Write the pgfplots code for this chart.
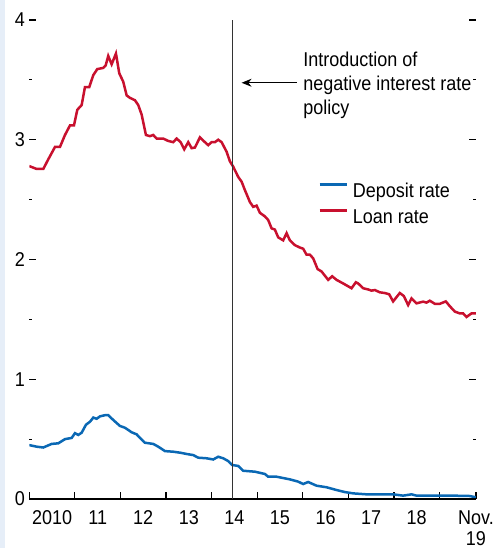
\documentclass[border=0pt]{standalone}
\usepackage{fontspec}
\setmainfont{Liberation Sans}[FakeStretch=0.9]
\usepackage{pgfplots}
\pgfplotsset{compat=1.18}
\usetikzlibrary{arrows.meta}
\definecolor{deposit}{HTML}{0A68B4}
\definecolor{loan}{HTML}{C8102E}
\definecolor{panel}{HTML}{E6EEF8}

\begin{document}
\begin{tikzpicture}[font=\fontsize{10}{12}\selectfont]
\useasboundingbox (-14.65pt,-24.5pt) rectangle (231.85pt,249.5pt);
\fill[panel] (-14.65pt,-24.5pt) rectangle (-12.15pt,249.5pt);
\begin{axis}[
  at={(0,0)}, anchor=south west,
  scale only axis, width=223.35pt, height=239.5pt,
  xmin=2010, xmax=2019.8, ymin=0, ymax=4,
  axis line style={draw=none},
  tick style={black, line width=0.6pt},
  tick align=inside,
  major tick length=3.5pt, minor tick length=1.5pt,
  xtick pos=left, ytick pos=both, yticklabel pos=left,
  xtick={2010,2011,...,2019,2019.8}, xticklabels={},
  extra x ticks={2010.5,2011.5,...,2018.5,2019.8},
  extra x tick labels={2010,11,12,13,14,15,16,17,18,{Nov.\\[-1.5pt]19}},
  extra x tick style={major tick length=0pt},
  xticklabel style={inner sep=0pt, yshift=-5.5pt, align=center},
  ytick={0,1,2,3,4}, yticklabels={0,1,2,3,4},
  minor ytick={0.5,1.5,2.5,3.5},
  yticklabel style={inner sep=0pt, xshift=-2pt},
  legend style={at={(rel axis cs:0.6463,0.6624)}, anchor=north west,
    draw=none, fill=none, inner sep=0pt, row sep=3.5pt,
    nodes={inner sep=0pt, text height=7.5pt, text depth=2pt},
    /tikz/every odd column/.append style={column sep=2.5pt}},
  legend cell align=left,
  legend image code/.code={\draw[#1] (0pt,3.5pt) -- (13.5pt,3.5pt);},
]
\addplot[deposit, line width=1.25pt] coordinates {
(2010.000,0.450) (2010.162,0.437) (2010.307,0.430) (2010.491,0.460)
(2010.636,0.465) (2010.783,0.500) (2010.930,0.510) (2011.002,0.550)
(2011.075,0.535) (2011.149,0.554) (2011.243,0.620) (2011.331,0.645)
(2011.404,0.680) (2011.478,0.670) (2011.550,0.690) (2011.660,0.700)
(2011.732,0.700) (2011.842,0.660) (2011.989,0.610) (2012.099,0.595)
(2012.246,0.557) (2012.355,0.540) (2012.428,0.510) (2012.537,0.470)
(2012.719,0.460) (2012.829,0.437) (2012.976,0.400) (2013.158,0.395)
(2013.305,0.387) (2013.452,0.376) (2013.596,0.367) (2013.706,0.345)
(2013.890,0.340) (2014.035,0.330) (2014.145,0.353) (2014.254,0.340)
(2014.364,0.317) (2014.452,0.284) (2014.583,0.276) (2014.693,0.236)
(2014.950,0.228) (2015.169,0.209) (2015.241,0.186) (2015.425,0.186)
(2015.717,0.164) (2015.899,0.145) (2016.009,0.125) (2016.118,0.142)
(2016.303,0.111) (2016.522,0.098) (2016.741,0.075) (2016.923,0.058)
(2017.105,0.047) (2017.399,0.039) (2017.982,0.039) (2018.202,0.028)
(2018.386,0.039) (2018.496,0.028) (2019.298,0.028) (2019.664,0.025)
(2019.800,0.014)
};
\addlegendentry{Deposit rate}
\addplot[loan, line width=1.25pt] coordinates {
(2010.000,2.780) (2010.162,2.756) (2010.307,2.756) (2010.417,2.837)
(2010.564,2.940) (2010.673,2.940) (2010.783,3.040) (2010.893,3.120)
(2010.980,3.120) (2011.053,3.250) (2011.149,3.290) (2011.221,3.440)
(2011.316,3.440) (2011.404,3.540) (2011.491,3.590) (2011.623,3.600)
(2011.675,3.620) (2011.732,3.700) (2011.807,3.630) (2011.901,3.720)
(2011.974,3.555) (2012.061,3.485) (2012.136,3.370) (2012.208,3.350)
(2012.318,3.330) (2012.390,3.290) (2012.465,3.210) (2012.559,3.040)
(2012.647,3.030) (2012.719,3.040) (2012.794,3.010) (2012.939,3.010)
(2013.048,2.990) (2013.158,2.980) (2013.232,3.010) (2013.320,2.980)
(2013.399,2.920) (2013.487,2.980) (2013.561,2.930) (2013.634,2.935)
(2013.743,3.020) (2013.853,2.980) (2013.925,2.955) (2014.000,2.980)
(2014.072,2.980) (2014.145,3.000) (2014.219,2.980) (2014.329,2.900)
(2014.401,2.820) (2014.474,2.775) (2014.583,2.690) (2014.658,2.650)
(2014.730,2.580) (2014.840,2.480) (2014.912,2.440) (2014.987,2.450)
(2015.059,2.390) (2015.169,2.360) (2015.241,2.330) (2015.316,2.260)
(2015.388,2.250) (2015.461,2.185) (2015.570,2.160) (2015.645,2.220)
(2015.717,2.160) (2015.827,2.120) (2015.936,2.100) (2016.009,2.090)
(2016.083,2.040) (2016.156,2.040) (2016.228,2.010) (2016.325,1.920)
(2016.412,1.900) (2016.557,1.830) (2016.645,1.860) (2016.741,1.830)
(2016.886,1.800) (2017.070,1.760) (2017.164,1.810) (2017.215,1.800)
(2017.325,1.760) (2017.434,1.750) (2017.509,1.740) (2017.581,1.745)
(2017.691,1.726) (2017.800,1.720) (2017.895,1.710) (2017.982,1.650)
(2018.129,1.720) (2018.217,1.695) (2018.311,1.620) (2018.386,1.676)
(2018.496,1.634) (2018.640,1.648) (2018.715,1.640) (2018.787,1.656)
(2018.897,1.630) (2019.007,1.630) (2019.138,1.650) (2019.226,1.610)
(2019.336,1.565) (2019.445,1.550) (2019.518,1.550) (2019.592,1.520)
(2019.702,1.550) (2019.800,1.550)
};
\addlegendentry{Loan rate}
\draw[black, line width=0.6pt] (rel axis cs:0,0) -- (rel axis cs:1,0);
\draw[black!80, line width=0.5pt] (axis cs:2014.45,0) -- (axis cs:2014.45,4);
\draw[black, line width=0.5pt, -{Stealth[length=5pt,width=4pt]}]
  (axis cs:2015.864,3.476) -- (axis cs:2014.658,3.476);
\node[anchor=north west, inner sep=0pt, align=left]
  at (axis cs:2016.004,3.735) {Introduction of\\negative interest rate\\policy};
\end{axis}
\end{tikzpicture}
\end{document}
